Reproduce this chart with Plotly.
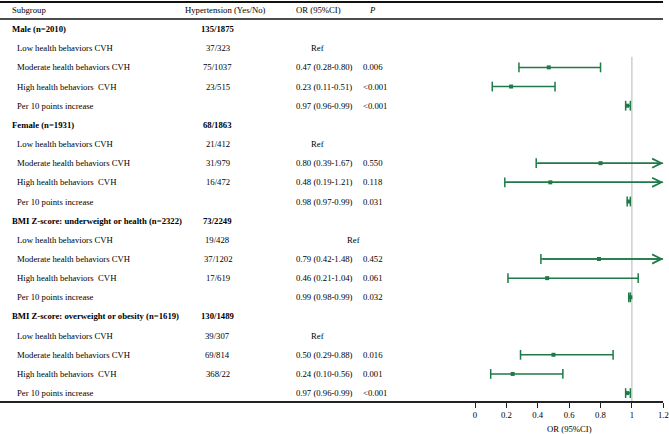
import plotly.graph_objects as go

# ---------------- data ----------------
groups = ["Male (n=2010)", "Female (n=1931)",
          "BMI Z-score: underweight or health (n=2322)",
          "BMI Z-score: overweight or obesity (n=1619)"]
group_counts = ["135/1875", "68/1863", "73/2249", "130/1489"]
levels = ["Low health behaviors CVH", "Moderate health behaviors CVH",
          "High health behaviors\u00a0 CVH", "Per 10 points increase"]
level_counts = [["37/323", "75/1037", "23/515", ""],
                ["21/412", "31/979", "16/472", ""],
                ["19/428", "37/1202", "17/619", ""],
                ["39/307", "69/814", "368/22", ""]]
or_vals = [[None, 0.47, 0.23, 0.97],
           [None, 0.80, 0.48, 0.98],
           [None, 0.79, 0.46, 0.99],
           [None, 0.50, 0.24, 0.97]]
or_lo = [[None, 0.28, 0.11, 0.96],
         [None, 0.39, 0.19, 0.97],
         [None, 0.42, 0.21, 0.98],
         [None, 0.29, 0.10, 0.96]]
or_hi = [[None, 0.80, 0.51, 0.99],
         [None, 1.67, 1.21, 0.99],
         [None, 1.48, 1.04, 0.99],
         [None, 0.88, 0.56, 0.99]]
p_vals = [["", "0.006", "<0.001", "<0.001"],
          ["", "0.550", "0.118", "0.031"],
          ["", "0.452", "0.061", "0.032"],
          ["", "0.016", "0.001", "<0.001"]]
x_ticks = [0, 0.2, 0.4, 0.6, 0.8, 1, 1.2]
x_tick_labels = ["0", "0.2", "0.4", "0.6", "0.8", "1", "1.2"]

# ---------------- layout constants ----------------
W, H = 669, 434
GREEN = "#1e7a46"
FONT = "Liberation Serif"
FS = 8.7
XMAX = 1.2
ROW0_PX, ROW_STEP = 9.9, 19.16
PLOT_BOTTOM = 402
ref_x_px = [317, 317, 353, 317]


def px(x):
    return x / W


fig = go.Figure()
ann = []


def text(xp, row, s, anchor="left", bold=False, italic=False):
    if bold:
        s = "<b>" + s + "</b>"
    if italic:
        s = "<i>" + s + "</i>"
    ann.append(dict(x=px(xp), xref="paper", y=row, yref="y", text=s,
                    showarrow=False, xanchor=anchor, yanchor="middle",
                    borderpad=0, borderwidth=0,
                    font=dict(family=FONT, size=FS, color="black")))


# header
text(12, 0, "Subgroup")
text(225, 0, "Hypertension (Yes/No)", anchor="center")
text(296, 0, "OR (95%CI)")
text(369, 0, "P", italic=True)

seg_x, seg_y = [], []
pt_x, pt_y = [], []
cap_x, cap_y = [], []
row = 1
for g in range(len(groups)):
    text(12, row, groups[g], bold=True)
    text(218, row, group_counts[g], anchor="center", bold=True)
    row += 1
    for k in range(len(levels)):
        text(17, row, levels[k])
        if level_counts[g][k]:
            text(218, row, level_counts[g][k], anchor="center")
        o, lo, hi = or_vals[g][k], or_lo[g][k], or_hi[g][k]
        if o is None:
            text(ref_x_px[g], row, "Ref", anchor="center")
        else:
            text(296, row, f"{o:.2f} ({lo:.2f}-{hi:.2f})")
            text(363, row, p_vals[g][k].replace("<", "&lt;"))
            seg_x += [lo, min(hi, XMAX), None]
            seg_y += [row, row, None]
            pt_x.append(o)
            pt_y.append(row)
            cap_x.append(lo)
            cap_y.append(row)
            if hi <= XMAX:
                cap_x.append(hi)
                cap_y.append(row)
            else:
                ann.append(dict(x=XMAX, y=row, xref="x", yref="y",
                                ax=lo, ay=row, axref="x", ayref="y",
                                text="", showarrow=True, arrowhead=5,
                                arrowsize=1.2, arrowwidth=1.5,
                                arrowcolor=GREEN, standoff=0))
        row += 1

fig.add_trace(go.Scatter(x=seg_x, y=seg_y, mode="lines",
                         line=dict(color=GREEN, width=1.5),
                         hoverinfo="skip", cliponaxis=False))
fig.add_trace(go.Scatter(x=cap_x, y=cap_y, mode="markers",
                         marker=dict(symbol="line-ns", size=7,
                                     line=dict(color=GREEN, width=1.5)),
                         hoverinfo="skip", cliponaxis=False))
fig.add_trace(go.Scatter(x=pt_x, y=pt_y, mode="markers",
                         marker=dict(symbol="square", size=4, color=GREEN),
                         cliponaxis=False))

# axis title
ann.append(dict(x=0.6, xref="x", y=-(429 - PLOT_BOTTOM) / PLOT_BOTTOM,
                yref="paper", text="OR (95%CI)", showarrow=False,
                xanchor="center", yanchor="middle",
                borderpad=0, borderwidth=0,
                font=dict(family=FONT, size=FS, color="black")))

y_top = -ROW0_PX / ROW_STEP
y_bot = (PLOT_BOTTOM - ROW0_PX) / ROW_STEP

shapes = [
    # top rule
    dict(type="line", xref="paper", yref="paper", x0=0, x1=px(663),
         y0=1 - 2 / PLOT_BOTTOM, y1=1 - 2 / PLOT_BOTTOM,
         line=dict(color="#111", width=2)),
    # header rule
    dict(type="line", xref="paper", yref="paper", x0=0, x1=px(663),
         y0=1 - 19 / PLOT_BOTTOM, y1=1 - 19 / PLOT_BOTTOM,
         line=dict(color="#111", width=1.3)),
    # bottom rule
    dict(type="line", xref="paper", yref="paper", x0=0, x1=px(663),
         y0=0, y1=0, line=dict(color="#222", width=1.8)),
    # reference line at OR = 1
    dict(type="line", xref="x", yref="y", x0=1, x1=1,
         y0=2.45, y1=y_bot, line=dict(color="#b5b5b5", width=1),
         layer="below"),
]

fig.update_layout(
    width=W, height=H,
    margin=dict(l=0, r=0, t=0, b=H - PLOT_BOTTOM, pad=0, autoexpand=False),
    paper_bgcolor="white", plot_bgcolor="white",
    showlegend=False,
    annotations=ann, shapes=shapes,
    xaxis=dict(domain=[px(475), px(663.3)], range=[0, XMAX],
               tickvals=x_ticks, ticktext=x_tick_labels,
               ticks="outside", ticklen=5, tickwidth=1, tickcolor="#222",
               showgrid=False, zeroline=False, showline=False,
               automargin=False,
               tickfont=dict(family=FONT, size=FS, color="black")),
    yaxis=dict(range=[y_bot, y_top], visible=False, automargin=False,
               showgrid=False, zeroline=False),
)

fig.write_html("out.html", config={"displayModeBar": False},
               post_script="document.body.style.margin='0';"
                           "document.body.style.overflow='hidden';")
